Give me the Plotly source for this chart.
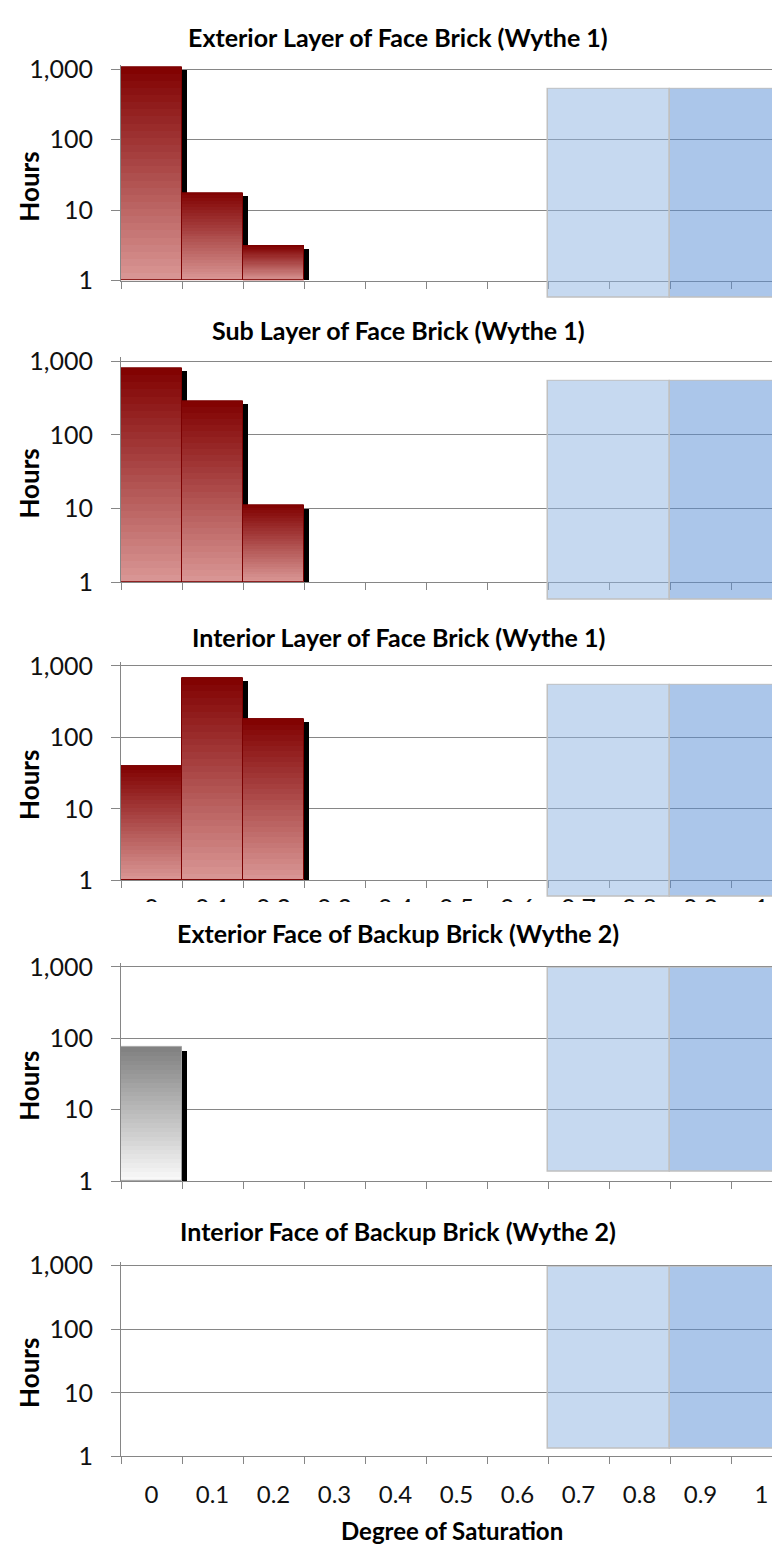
import plotly.graph_objects as go

# ---------------- data ----------------
categories = ["0", "0.1", "0.2", "0.3", "0.4", "0.5", "0.6", "0.7", "0.8", "0.9", "1"]

panel_titles = [
    "Exterior Layer of Face Brick (Wythe 1)",
    "Sub Layer of Face Brick (Wythe 1)",
    "Interior Layer of Face Brick (Wythe 1)",
    "Exterior Face of Backup Brick (Wythe 2)",
    "Interior Face of Backup Brick (Wythe 2)",
]

ext_layer_face_hours = [1080, 17.6, 3.1, None, None, None, None, None, None, None, None]
sub_layer_face_hours = [800, 287, 11, None, None, None, None, None, None, None, None]
int_layer_face_hours = [40, 680, 180, None, None, None, None, None, None, None, None]
ext_face_backup_hours = [75, None, None, None, None, None, None, None, None, None, None]
int_face_backup_hours = [None, None, None, None, None, None, None, None, None, None, None]

panel_hours = [ext_layer_face_hours, sub_layer_face_hours, int_layer_face_hours,
               ext_face_backup_hours, int_face_backup_hours]

# critical saturation bands (start category, span in categories)
band_start = ["0.7", "0.9"]
band_span = [2, 2]
band_level = [1, 1]

y_tickvals = [1, 10, 100, 1000]
y_ticktext = ["1", "10", "100", "1,000"]
x_title = "Degree of Saturation"
y_title = "Hours"

# ---------------- layout geometry (pixels) ----------------
W, H = 780, 1548
FONT = "Lato"
# (y of 1,000 line, y of 1 line, band top, band bottom, title y)
geom = [
    (50, 265, 69, 284, 17),
    (347, 572, 366, 591, 315),
    (657, 875, 675, 893, 628),
    (963, 1181, 963, 1173, 929),
    (1267, 1461, 1267, 1454, 1232),
]
AXIS_LEFT = 113
CAT_W = 61.0

def py(p):
    return 1 - p / H

GRID = "#868686"
top_col = [(128, 0, 0), (128, 0, 0), (128, 0, 0), (128, 128, 128), (128, 128, 128)]
bot_col = [(218, 152, 150), (218, 152, 150), (218, 152, 150), (250, 250, 250), (250, 250, 250)]
edge_col = ["#7a0000", "#7a0000", "#7a0000", "#a0a0a0", "#a0a0a0"]
NSEG = 30

fig = go.Figure()
x_right = -0.5 + (W - AXIS_LEFT) / CAT_W

annotations = []
for i in range(5):
    y1000, y1, btop, bbot, ty = geom[i]
    dec = (y1 - y1000) / 3.0
    extra = 4 / dec
    top_px = y1000 - 4
    n = i + 1
    xa = "x" if n == 1 else f"x{n}"
    ya = "y" if n == 1 else f"y{n}"
    vals = panel_hours[i]
    xs = [c for c, v in zip(categories, vals) if v]
    vs = [v for v in vals if v]

    if vs:
        # shadow
        fig.add_trace(go.Bar(
            x=xs, y=[v * 0.9 - 1 for v in vs], base=[1] * len(vs),
            width=1, offset=-0.5 + 5 / CAT_W,
            marker=dict(color="black", line=dict(width=0)),
            xaxis=xa, yaxis=ya, showlegend=False, hoverinfo="skip"))
        # gradient fill
        for k in range(NSEG):
            f = (k + 0.5) / NSEG
            c = tuple(round(bot_col[i][j] + (top_col[i][j] - bot_col[i][j]) * f) for j in range(3))
            b0 = [v ** (k / NSEG) for v in vs]
            b1 = [v ** ((k + 1) / NSEG) for v in vs]
            fig.add_trace(go.Bar(
                x=xs, y=[t - b for t, b in zip(b1, b0)], base=b0,
                width=1, offset=-0.5,
                marker=dict(color="rgb(%d,%d,%d)" % c, line=dict(width=0)),
                xaxis=xa, yaxis=ya, showlegend=False, hoverinfo="skip"))
        # outline
        fig.add_trace(go.Bar(
            x=xs, y=[v - 1 for v in vs], base=[1] * len(vs),
            width=1, offset=-0.5,
            marker=dict(color="rgba(0,0,0,0)", line=dict(width=1, color=edge_col[i])),
            xaxis=xa, yaxis=ya, showlegend=False, hovertemplate="%{x}: %{y}<extra></extra>"))
    else:
        fig.add_trace(go.Bar(x=[categories[0]], y=[None], xaxis=xa, yaxis=ya,
                             showlegend=False, hoverinfo="skip"))

    xkey = "xaxis" if n == 1 else f"xaxis{n}"
    ykey = "yaxis" if n == 1 else f"yaxis{n}"
    show_lbl = i in (2, 4)
    fig.update_layout(**{
        xkey: dict(domain=[AXIS_LEFT / W, 1], anchor=ya, type="category",
                   categoryorder="array", categoryarray=categories,
                   range=[-0.5, x_right], tickson="boundaries",
                   ticks="outside", ticklen=7, tickcolor=GRID, tickwidth=1,
                   showline=True, linecolor=GRID, linewidth=1, showgrid=False,
                   showticklabels=show_lbl,
                   ticklabelstandoff=(6 if i == 2 else 17),
                   tickfont=dict(family=FONT, size=(25 if i == 2 else 24), color="#111"),
                   fixedrange=True),
        ykey: dict(domain=[py(y1), py(top_px)], anchor=xa, type="log",
                   range=[0, 3 + extra], tickvals=y_tickvals, ticktext=y_ticktext,
                   ticks="outside", ticklen=9, tickcolor=GRID, tickwidth=1,
                   showline=True, linecolor=GRID, linewidth=1,
                   showgrid=True, gridcolor=GRID, gridwidth=1,
                   ticklabelstandoff=13,
                   tickfont=dict(family=FONT, size=25, color="#111"),
                   fixedrange=True),
    })

    # band overlay axes
    m = i + 6
    bx, by = f"x{m}", f"y{m}"
    fig.add_trace(go.Bar(
        x=band_start, y=band_level, base=[0, 0], width=band_span, offset=-0.5,
        marker=dict(color=["rgba(141,180,226,0.5)", "rgba(87,141,213,0.5)"],
                    line=dict(width=1.5, color="#c0c0c0")),
        xaxis=bx, yaxis=by, showlegend=False, hoverinfo="skip"))
    fig.update_layout(**{
        f"xaxis{m}": dict(domain=[AXIS_LEFT / W, 1], anchor=by, type="category",
                          categoryorder="array", categoryarray=categories,
                          range=[-0.5, x_right], visible=False, fixedrange=True),
        f"yaxis{m}": dict(domain=[py(bbot), py(btop)], anchor=bx, range=[-0.006, 1.006],
                          visible=False, fixedrange=True),
    })

    annotations.append(dict(text="<b>%s</b>" % panel_titles[i], x=390 / W, y=py(ty),
                            xref="paper", yref="paper", showarrow=False,
                            font=dict(family=FONT, size=25, color="#000"),
                            xanchor="center", yanchor="middle"))
    annotations.append(dict(text="<b>%s</b>" % y_title, x=21 / W,
                            y=py((y1 + y1000) / 2 + 12), xref="paper", yref="paper",
                            showarrow=False, textangle=-90,
                            font=dict(family=FONT, size=26, color="#000"),
                            xanchor="center", yanchor="middle"))

annotations.append(dict(text="<b>%s</b>" % x_title, x=444 / W, y=py(1536),
                        xref="paper", yref="paper", showarrow=False,
                        font=dict(family=FONT, size=24, color="#000"),
                        xanchor="center", yanchor="middle"))

fig.update_layout(
    width=W, height=H, margin=dict(l=0, r=0, t=0, b=0),
    paper_bgcolor="white", plot_bgcolor="rgba(0,0,0,0)",
    barmode="overlay", bargap=0, showlegend=False,
    annotations=annotations,
    shapes=[dict(type="rect", xref="paper", yref="paper", x0=0, x1=1,
                 y0=py(917), y1=py(897), fillcolor="white", line=dict(width=0),
                 layer="above")],
)

fig.write_html("out.html")
